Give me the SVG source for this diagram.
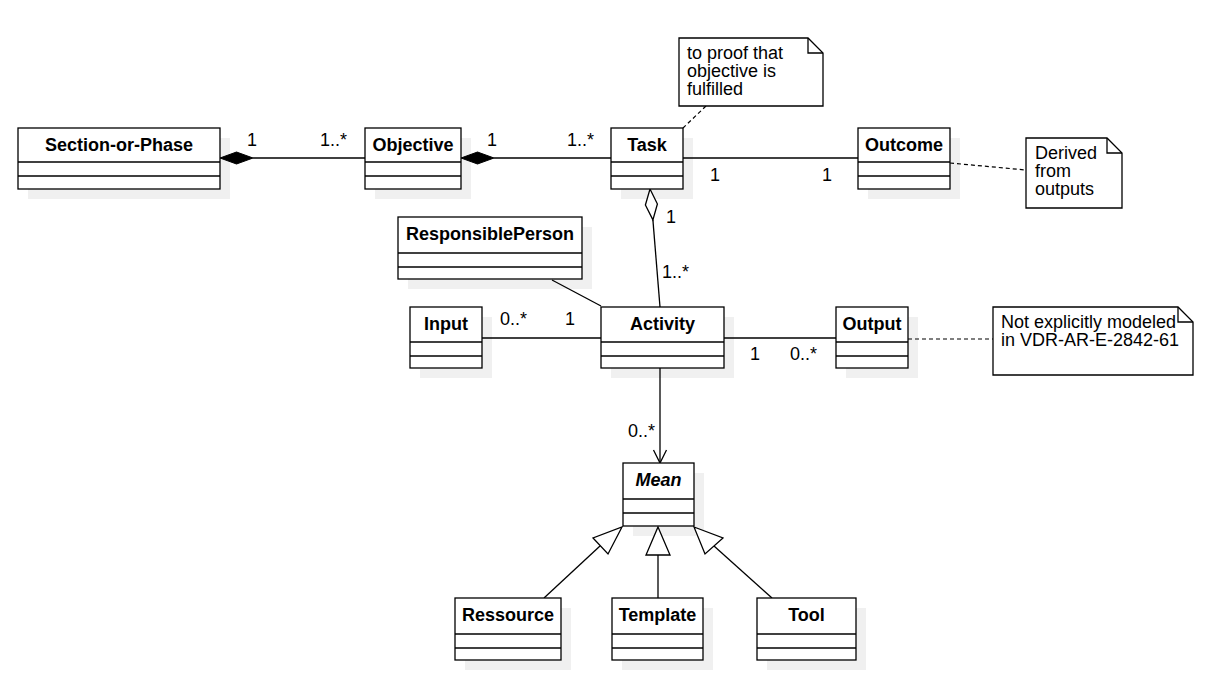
<svg xmlns="http://www.w3.org/2000/svg" width="1232" height="696" viewBox="0 0 1232 696">
<style>
.box{fill:#fff;stroke:#000;stroke-width:1.3}
.sh{fill:#f0f0f0;stroke:none}
.ln{stroke:#000;stroke-width:1.3;fill:none}
.dash{stroke:#000;stroke-width:1.2;fill:none;stroke-dasharray:4 3}
.t{font-family:"Liberation Sans",Arial,sans-serif;font-size:18px;fill:#000}
.b{font-weight:bold;text-anchor:middle}
.note{fill:#fff;stroke:#000;stroke-width:1.3}
</style>
<rect width="1232" height="696" fill="#fff"/>
<g id="shadows">
<rect class="sh" x="28" y="138" width="202" height="61"/>
<rect class="sh" x="375" y="138" width="96" height="61"/>
<rect class="sh" x="621" y="138" width="72" height="61"/>
<rect class="sh" x="868" y="138" width="92" height="61"/>
<rect class="sh" x="408" y="227" width="184" height="62"/>
<rect class="sh" x="420" y="317" width="72" height="61"/>
<rect class="sh" x="611" y="317" width="123" height="61"/>
<rect class="sh" x="846" y="317" width="72" height="61"/>
<rect class="sh" x="633" y="473" width="71" height="63"/>
<rect class="sh" x="465" y="608" width="106" height="62"/>
<rect class="sh" x="622" y="608" width="91" height="62"/>
<rect class="sh" x="767" y="608" width="99" height="62"/>
</g>
<g id="connectors">
<line class="ln" x1="253" y1="158" x2="365" y2="158"/>
<polygon points="220,158 236.5,152 253,158 236.5,164" fill="#000" stroke="#000" stroke-width="1"/>
<line class="ln" x1="494" y1="158" x2="611" y2="158"/>
<polygon points="461,158 477.5,152 494,158 477.5,164" fill="#000" stroke="#000" stroke-width="1"/>
<line class="ln" x1="683" y1="158" x2="858" y2="158"/>
<line class="ln" x1="652.9" y1="219.9" x2="660" y2="307"/>
<polygon points="650,189 657.4,204 652.9,219.9 645.4,205" fill="#fff" stroke="#000" stroke-width="1.3"/>
<line class="ln" x1="552" y1="280" x2="601" y2="306"/>
<line class="ln" x1="482" y1="338" x2="601" y2="338"/>
<line class="ln" x1="724" y1="338" x2="836" y2="338"/>
<line class="ln" x1="660" y1="368" x2="660" y2="462"/>
<polyline class="ln" points="653.5,450 660,463 666.5,450"/>
<line class="ln" x1="600" y1="546" x2="544" y2="598"/>
<polygon points="622,527 608,554 593,538" fill="#fff" stroke="#000" stroke-width="1.3"/>
<line class="ln" x1="658" y1="555" x2="658" y2="598"/>
<polygon points="658,527 670,555 646,555" fill="#fff" stroke="#000" stroke-width="1.3"/>
<line class="ln" x1="714" y1="546" x2="772" y2="598"/>
<polygon points="694,527 723,538 705,554" fill="#fff" stroke="#000" stroke-width="1.3"/>
<line class="dash" x1="706" y1="106" x2="683" y2="128"/>
<line class="dash" x1="950" y1="163" x2="1026" y2="170"/>
<line class="dash" x1="908" y1="339" x2="993" y2="339"/>
<text class="t" x="247" y="146">1</text>
<text class="t" x="320" y="146">1..*</text>
<text class="t" x="487" y="146">1</text>
<text class="t" x="567" y="146">1..*</text>
<text class="t" x="710" y="181">1</text>
<text class="t" x="822" y="181">1</text>
<text class="t" x="666" y="223">1</text>
<text class="t" x="662" y="278">1..*</text>
<text class="t" x="500" y="325">0..*</text>
<text class="t" x="565" y="325">1</text>
<text class="t" x="750" y="360">1</text>
<text class="t" x="790" y="360">0..*</text>
<text class="t" x="628" y="437">0..*</text>
</g>
<g id="section-or-phase">
<rect class="box" x="18" y="128" width="202" height="61"/>
<line class="ln" x1="18" y1="162" x2="220" y2="162"/>
<line class="ln" x1="18" y1="176" x2="220" y2="176"/>
<text class="t b" x="119" y="151">Section-or-Phase</text>
</g>
<g id="objective">
<rect class="box" x="365" y="128" width="96" height="61"/>
<line class="ln" x1="365" y1="162" x2="461" y2="162"/>
<line class="ln" x1="365" y1="176" x2="461" y2="176"/>
<text class="t b" x="413" y="151">Objective</text>
</g>
<g id="task">
<rect class="box" x="611" y="128" width="72" height="61"/>
<line class="ln" x1="611" y1="162" x2="683" y2="162"/>
<line class="ln" x1="611" y1="176" x2="683" y2="176"/>
<text class="t b" x="647" y="151">Task</text>
</g>
<g id="outcome">
<rect class="box" x="858" y="128" width="92" height="61"/>
<line class="ln" x1="858" y1="162" x2="950" y2="162"/>
<line class="ln" x1="858" y1="176" x2="950" y2="176"/>
<text class="t b" x="904" y="151">Outcome</text>
</g>
<g id="note-proof">
<polygon class="note" points="679,38 808,38 823,53 823,106 679,106"/>
<polyline class="ln" points="808,38 808,53 823,53"/>
<text class="t" x="687" y="59">to proof that</text>
<text class="t" x="687" y="77">objective is</text>
<text class="t" x="687" y="95">fulfilled</text>
</g>
<g id="note-derived">
<polygon class="note" points="1026,138 1107,138 1122,153 1122,208 1026,208"/>
<polyline class="ln" points="1107,138 1107,153 1122,153"/>
<text class="t" x="1035" y="159">Derived</text>
<text class="t" x="1035" y="177">from</text>
<text class="t" x="1035" y="195">outputs</text>
</g>
<g id="responsibleperson">
<rect class="box" x="398" y="217" width="184" height="62"/>
<line class="ln" x1="398" y1="253" x2="582" y2="253"/>
<line class="ln" x1="398" y1="267" x2="582" y2="267"/>
<text class="t b" x="490" y="240">ResponsiblePerson</text>
</g>
<g id="input">
<rect class="box" x="410" y="307" width="72" height="61"/>
<line class="ln" x1="410" y1="342" x2="482" y2="342"/>
<line class="ln" x1="410" y1="356" x2="482" y2="356"/>
<text class="t b" x="446" y="330">Input</text>
</g>
<g id="activity">
<rect class="box" x="601" y="307" width="123" height="61"/>
<line class="ln" x1="601" y1="342" x2="724" y2="342"/>
<line class="ln" x1="601" y1="356" x2="724" y2="356"/>
<text class="t b" x="662.5" y="330">Activity</text>
</g>
<g id="output">
<rect class="box" x="836" y="307" width="72" height="61"/>
<line class="ln" x1="836" y1="342" x2="908" y2="342"/>
<line class="ln" x1="836" y1="356" x2="908" y2="356"/>
<text class="t b" x="872" y="330">Output</text>
</g>
<g id="note-vdr">
<polygon class="note" points="993,307 1178,307 1193,322 1193,375 993,375"/>
<polyline class="ln" points="1178,307 1178,322 1193,322"/>
<text class="t" x="1001" y="328">Not explicitly modeled</text>
<text class="t" x="1001" y="346">in VDR-AR-E-2842-61</text>
</g>
<g id="mean">
<rect class="box" x="623" y="463" width="71" height="63"/>
<line class="ln" x1="623" y1="499" x2="694" y2="499"/>
<line class="ln" x1="623" y1="513" x2="694" y2="513"/>
<text class="t b" x="658.5" y="486" font-style="italic">Mean</text>
</g>
<g id="ressource">
<rect class="box" x="455" y="598" width="106" height="62"/>
<line class="ln" x1="455" y1="634" x2="561" y2="634"/>
<line class="ln" x1="455" y1="648" x2="561" y2="648"/>
<text class="t b" x="508" y="621">Ressource</text>
</g>
<g id="template">
<rect class="box" x="612" y="598" width="91" height="62"/>
<line class="ln" x1="612" y1="634" x2="703" y2="634"/>
<line class="ln" x1="612" y1="648" x2="703" y2="648"/>
<text class="t b" x="657.5" y="621">Template</text>
</g>
<g id="tool">
<rect class="box" x="757" y="598" width="99" height="62"/>
<line class="ln" x1="757" y1="634" x2="856" y2="634"/>
<line class="ln" x1="757" y1="648" x2="856" y2="648"/>
<text class="t b" x="806.5" y="621">Tool</text>
</g>
</svg>
